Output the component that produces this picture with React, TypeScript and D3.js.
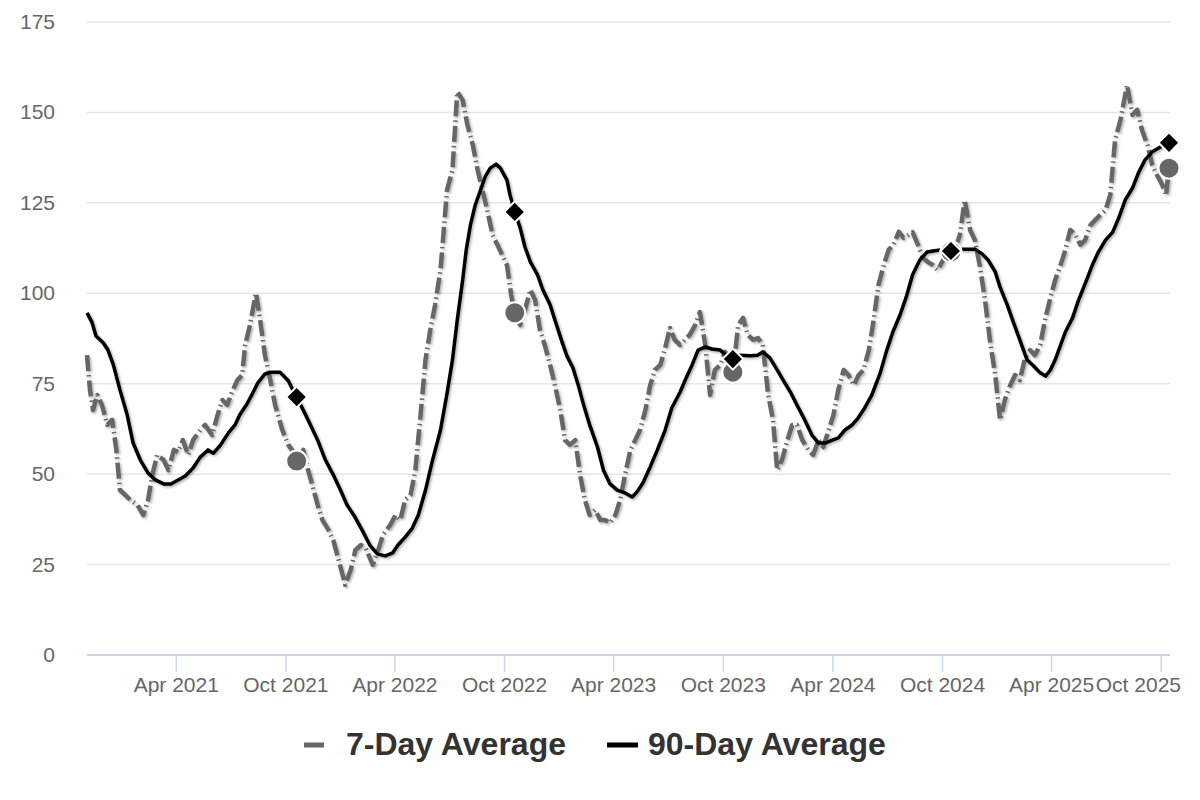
import React, { useRef, useEffect } from 'react';
import * as d3 from 'd3';

// weekly-ish readings, [date, value]
const sevenDay: [string, number][] = [
  ["2020-11-03", 82.9], ["2020-11-08", 73.3], ["2020-11-13", 67.7], ["2020-11-20", 71.9], ["2020-11-28", 69.1],
  ["2020-12-07", 63.6], ["2020-12-15", 65], ["2020-12-22", 56.7], ["2020-12-28", 45.6], ["2021-01-06", 44.2],
  ["2021-01-14", 42.9], ["2021-01-26", 41.5], ["2021-02-05", 38.7], ["2021-02-13", 42.9], ["2021-02-20", 49.8],
  ["2021-02-28", 55.3], ["2021-03-11", 53.9], ["2021-03-19", 51.1], ["2021-03-28", 56.7], ["2021-04-04", 56.1],
  ["2021-04-12", 59.4], ["2021-04-21", 55.3], ["2021-04-29", 59.4], ["2021-05-11", 62.2], ["2021-05-19", 63.6],
  ["2021-05-31", 60.8], ["2021-06-09", 66.4], ["2021-06-17", 70.5], ["2021-06-25", 69.1], ["2021-07-03", 72.7],
  ["2021-07-12", 76], ["2021-07-20", 77.4], ["2021-07-25", 85.7], ["2021-08-02", 91.2], ["2021-08-12", 100.1],
  ["2021-08-19", 92.6], ["2021-08-27", 82.9], ["2021-09-05", 76], ["2021-09-13", 69.1], ["2021-09-25", 62.2],
  ["2021-10-05", 58.1], ["2021-10-11", 56.7], ["2021-10-19", 53.6], ["2021-10-30", 56.7], ["2021-11-07", 51.1],
  ["2021-11-14", 47], ["2021-11-23", 41.5], ["2021-12-01", 37.3], ["2021-12-11", 34.6], ["2021-12-19", 31.8],
  ["2021-12-28", 26.3], ["2022-01-08", 19.4], ["2022-01-17", 23.5], ["2022-01-25", 29], ["2022-02-03", 30.4],
  ["2022-02-11", 29.6], ["2022-02-23", 24.9], ["2022-03-04", 29], ["2022-03-12", 33.2], ["2022-03-24", 35.9],
  ["2022-04-02", 38.7], ["2022-04-10", 37.3], ["2022-04-18", 42.9], ["2022-04-27", 44.2], ["2022-05-05", 51.1],
  ["2022-05-13", 65], ["2022-05-22", 81.6], ["2022-05-30", 89.9], ["2022-06-07", 96.8], ["2022-06-16", 106.4],
  ["2022-06-27", 128.6], ["2022-07-06", 134.1], ["2022-07-14", 155.7], ["2022-07-23", 153.4], ["2022-07-31", 146.5],
  ["2022-08-09", 141], ["2022-08-17", 134.1], ["2022-08-25", 128.6], ["2022-09-02", 123], ["2022-09-11", 116.1],
  ["2022-09-19", 113.4], ["2022-09-27", 110.6], ["2022-10-05", 107.8], ["2022-10-12", 99.5], ["2022-10-18", 94.6],
  ["2022-10-27", 91.2], ["2022-11-04", 95.4], ["2022-11-13", 101], ["2022-11-21", 98.1], ["2022-11-29", 89.9],
  ["2022-12-07", 85.7], ["2022-12-16", 80.2], ["2022-12-24", 74.6], ["2023-01-02", 67.7], ["2023-01-10", 59.4],
  ["2023-01-18", 58.1], ["2023-01-27", 59.4], ["2023-02-04", 49.8], ["2023-02-12", 42.9], ["2023-02-20", 38.7],
  ["2023-03-01", 40.1], ["2023-03-10", 37.3], ["2023-03-18", 37.3], ["2023-03-26", 36.5], ["2023-04-04", 38.7],
  ["2023-04-12", 42.9], ["2023-04-20", 49.8], ["2023-04-29", 56.7], ["2023-05-07", 59.4], ["2023-05-15", 62.2],
  ["2023-05-24", 67.7], ["2023-06-01", 74.6], ["2023-06-09", 78.8], ["2023-06-18", 80.2], ["2023-06-26", 84.9],
  ["2023-07-04", 90.4], ["2023-07-12", 87.1], ["2023-07-21", 85.7], ["2023-07-29", 87.1], ["2023-08-06", 88.5],
  ["2023-08-15", 91.2], ["2023-08-23", 94.8], ["2023-09-01", 85.7], ["2023-09-09", 71.9], ["2023-09-17", 78.8],
  ["2023-09-26", 80.2], ["2023-10-04", 83.8], ["2023-10-12", 80.2], ["2023-10-17", 78.2], ["2023-10-26", 91.2],
  ["2023-11-03", 93.2], ["2023-11-11", 88.5], ["2023-11-20", 87.1], ["2023-11-28", 87.6], ["2023-12-06", 85.7],
  ["2023-12-15", 71.9], ["2023-12-23", 65], ["2023-12-30", 51.1], ["2024-01-07", 53.9], ["2024-01-16", 59.4],
  ["2024-01-24", 63.6], ["2024-02-01", 63.6], ["2024-02-10", 59.4], ["2024-02-20", 56.7], ["2024-02-28", 55.3],
  ["2024-03-08", 59.4], ["2024-03-16", 57.5], ["2024-03-25", 62.2], ["2024-04-02", 66.4], ["2024-04-10", 73.3],
  ["2024-04-19", 78.8], ["2024-04-27", 77.4], ["2024-05-06", 74.6], ["2024-05-14", 77.4], ["2024-05-22", 78.8],
  ["2024-05-31", 84.3], ["2024-06-08", 92.6], ["2024-06-16", 102.3], ["2024-06-25", 107.8], ["2024-07-03", 112],
  ["2024-07-11", 113.4], ["2024-07-20", 117], ["2024-07-28", 115.3], ["2024-08-05", 116.1], ["2024-08-12", 116.9],
  ["2024-08-21", 113.4], ["2024-08-29", 109.8], ["2024-09-06", 108.7], ["2024-09-15", 107.8], ["2024-09-23", 106.4],
  ["2024-10-02", 109.2], ["2024-10-10", 110.6], ["2024-10-15", 111.5], ["2024-10-22", 112.5], ["2024-10-30", 116.1],
  ["2024-11-07", 125.8], ["2024-11-16", 117.5], ["2024-11-24", 114.7], ["2024-12-02", 107.8], ["2024-12-11", 98.1],
  ["2024-12-19", 87.1], ["2024-12-28", 77.4], ["2025-01-05", 65], ["2025-01-13", 70.5], ["2025-01-22", 74.6],
  ["2025-01-30", 77.4], ["2025-02-07", 76], ["2025-02-15", 81.6], ["2025-02-24", 84.3], ["2025-03-04", 82.9],
  ["2025-03-13", 85.7], ["2025-03-21", 92.6], ["2025-03-29", 98.1], ["2025-04-07", 103.7], ["2025-04-16", 107.8],
  ["2025-04-24", 112], ["2025-05-02", 117.5], ["2025-05-11", 116.1], ["2025-05-19", 113.4], ["2025-05-27", 114.7],
  ["2025-06-05", 118.9], ["2025-06-13", 120.3], ["2025-06-21", 121.6], ["2025-06-30", 123], ["2025-07-08", 127.2],
  ["2025-07-16", 142.4], ["2025-07-25", 147.9], ["2025-08-05", 157.6], ["2025-08-14", 149.3], ["2025-08-22", 150.7],
  ["2025-08-30", 145.1], ["2025-09-08", 141], ["2025-09-16", 135.5], ["2025-09-24", 132.7], ["2025-10-03", 129.9],
  ["2025-10-09", 127], ["2025-10-14", 134.6],
];

const ninetyDay: [string, number][] = [
  ["2020-11-03", 94.6], ["2020-11-11", 92.1], ["2020-11-18", 88.2], ["2020-11-30", 86.3], ["2020-12-08", 84.3],
  ["2020-12-17", 80.2], ["2020-12-28", 73.3], ["2021-01-09", 66.4], ["2021-01-19", 58.6], ["2021-01-31", 53.9],
  ["2021-02-13", 50.3], ["2021-02-25", 48.4], ["2021-03-11", 47.3], ["2021-03-23", 47.3], ["2021-04-04", 48.4],
  ["2021-04-16", 49.5], ["2021-04-29", 51.7], ["2021-05-11", 54.7], ["2021-05-24", 56.7], ["2021-06-02", 55.8],
  ["2021-06-14", 58.1], ["2021-06-27", 61.4], ["2021-07-08", 63.6], ["2021-07-16", 66.4], ["2021-07-28", 69.4],
  ["2021-08-05", 71.9], ["2021-08-15", 75.2], ["2021-08-27", 77.7], ["2021-09-08", 78.2], ["2021-09-21", 78.2],
  ["2021-10-05", 75.8], ["2021-10-11", 73.8], ["2021-10-19", 71.3], ["2021-10-30", 67.7], ["2021-11-11", 63.6],
  ["2021-11-23", 59.4], ["2021-12-06", 53.9], ["2021-12-19", 49.8], ["2021-12-31", 45.6], ["2022-01-11", 41.5],
  ["2022-01-24", 38.2], ["2022-02-05", 34.6], ["2022-02-18", 30.4], ["2022-03-03", 27.9], ["2022-03-16", 27.4],
  ["2022-03-28", 28.2], ["2022-04-06", 30.4], ["2022-04-18", 32.6], ["2022-04-30", 35.1], ["2022-05-10", 38.7],
  ["2022-05-22", 45.6], ["2022-06-02", 53.4], ["2022-06-16", 62.2], ["2022-06-27", 72.4], ["2022-07-06", 81.6],
  ["2022-07-14", 92.6], ["2022-07-23", 103.7], ["2022-07-29", 112], ["2022-08-05", 118.9], ["2022-08-13", 124.4],
  ["2022-08-22", 128.6], ["2022-08-30", 132.4], ["2022-09-07", 134.6], ["2022-09-17", 135.7], ["2022-09-24", 134.6],
  ["2022-10-05", 131.3], ["2022-10-10", 127.2], ["2022-10-18", 122.5], ["2022-10-27", 118.1], ["2022-11-04", 112.8],
  ["2022-11-13", 108.7], ["2022-11-25", 105.1], ["2022-12-04", 100.9], ["2022-12-16", 96.8], ["2022-12-24", 92.6],
  ["2023-01-05", 86.5], ["2023-01-13", 82.7], ["2023-01-23", 79.4], ["2023-02-01", 74.6], ["2023-02-09", 69.7],
  ["2023-02-20", 63.6], ["2023-03-05", 57.5], ["2023-03-15", 51.1], ["2023-03-26", 47.3], ["2023-04-07", 45.6],
  ["2023-04-20", 44.8], ["2023-05-02", 43.7], ["2023-05-10", 45.1], ["2023-05-20", 47.6], ["2023-06-01", 52],
  ["2023-06-13", 56.7], ["2023-06-26", 62.2], ["2023-07-07", 68.3], ["2023-07-21", 72.7], ["2023-07-31", 76.6],
  ["2023-08-10", 80.2], ["2023-08-20", 84.3], ["2023-09-01", 85.2], ["2023-09-12", 84.6], ["2023-09-26", 84.3],
  ["2023-10-07", 82.7], ["2023-10-17", 81.8], ["2023-10-29", 82.9], ["2023-11-15", 82.7], ["2023-11-27", 82.9],
  ["2023-12-06", 83.8], ["2023-12-18", 82.1], ["2023-12-30", 78.8], ["2024-01-09", 76], ["2024-01-21", 72.7],
  ["2024-02-01", 69.1], ["2024-02-14", 65], ["2024-02-26", 60.8], ["2024-03-08", 58.6], ["2024-03-19", 58.6],
  ["2024-03-31", 59.4], ["2024-04-10", 60], ["2024-04-21", 62.2], ["2024-05-03", 63.6], ["2024-05-13", 65.5],
  ["2024-05-24", 68.3], ["2024-06-05", 71.9], ["2024-06-19", 78], ["2024-06-30", 84.3], ["2024-07-10", 89.3],
  ["2024-07-22", 94], ["2024-08-02", 99.3], ["2024-08-12", 105.1], ["2024-08-24", 109.2], ["2024-09-05", 111.4],
  ["2024-09-15", 111.7], ["2024-09-27", 112], ["2024-10-05", 111.7], ["2024-10-15", 111.7], ["2024-10-30", 112.2],
  ["2024-11-11", 112.2], ["2024-11-24", 112.2], ["2024-12-06", 110.9], ["2024-12-16", 109.2], ["2024-12-28", 105.9],
  ["2025-01-05", 101.7], ["2025-01-17", 96.8], ["2025-01-27", 92.1], ["2025-02-07", 87.1], ["2025-02-19", 81.6],
  ["2025-03-02", 79.9], ["2025-03-13", 78], ["2025-03-22", 77.1], ["2025-03-30", 78.8], ["2025-04-07", 81.6],
  ["2025-04-16", 85.7], ["2025-04-24", 89.3], ["2025-05-06", 93.2], ["2025-05-16", 98.1], ["2025-05-28", 103.1],
  ["2025-06-08", 107.8], ["2025-06-18", 111.4], ["2025-06-30", 114.7], ["2025-07-12", 116.9], ["2025-07-22", 120.8],
  ["2025-08-02", 125.8], ["2025-08-14", 129.1], ["2025-08-24", 133.3], ["2025-09-04", 136.9], ["2025-09-16", 139.1],
  ["2025-09-29", 140.4], ["2025-10-14", 141.6],
];

// same week each year, highlighted with markers
const markerDates = ["2021-10-19", "2022-10-18", "2023-10-17", "2024-10-15", "2025-10-14"];

const yTicks = [0, 25, 50, 75, 100, 125, 150, 175];
const xTicks = ["2021-04-01", "2021-10-01", "2022-04-01", "2022-10-01", "2023-04-01",
  "2023-10-01", "2024-04-01", "2024-10-01", "2025-04-01", "2025-10-01"];

const legendItems = ["7-Day Average", "90-Day Average"];

const W = 1200;
const H = 800;
const plot = { left: 87, right: 1169, top: 22, bottom: 655 };
const FONT = '"Liberation Sans", Arial, sans-serif';

const parse = d3.utcParse('%Y-%m-%d');

const App: React.FC = () => {
  const svgRef = useRef<SVGSVGElement | null>(null);

  useEffect(() => {
    if (!svgRef.current) return;
    const svg = d3.select(svgRef.current);
    svg.selectAll('*').remove();

    const x = d3.scaleUtc()
      .domain([parse(sevenDay[0][0])!, parse(sevenDay[sevenDay.length - 1][0])!])
      .range([plot.left, plot.right]);
    const y = d3.scaleLinear().domain([0, 175]).range([plot.bottom, plot.top]);

    const defs = svg.append('defs');
    const f = defs.append('filter').attr('id', 'shadow')
      .attr('filterUnits', 'userSpaceOnUse')
      .attr('x', 0).attr('y', 0).attr('width', W).attr('height', H);
    f.append('feDropShadow')
      .attr('dx', 1.5).attr('dy', 1.5).attr('stdDeviation', 1.2)
      .attr('flood-color', '#000').attr('flood-opacity', 0.3);

    // grid
    svg.append('g').selectAll('line')
      .data(yTicks.filter(t => t > 0))
      .enter().append('line')
      .attr('x1', plot.left).attr('x2', plot.right + 1)
      .attr('y1', d => y(d)).attr('y2', d => y(d))
      .attr('stroke', '#e6e6e6').attr('stroke-width', 1.5);

    // y labels
    svg.append('g').selectAll('text')
      .data(yTicks)
      .enter().append('text')
      .attr('x', 55).attr('y', d => y(d) + 7)
      .attr('text-anchor', 'end')
      .attr('font-family', FONT).attr('font-size', 21).attr('fill', '#666')
      .text(d => d);

    // x axis
    svg.append('line')
      .attr('x1', plot.left).attr('x2', plot.right + 1)
      .attr('y1', plot.bottom).attr('y2', plot.bottom)
      .attr('stroke', '#ccd6eb').attr('stroke-width', 2);
    const xDates = xTicks.map(d => parse(d)!);
    const xt = svg.append('g').selectAll('g')
      .data(xDates)
      .enter().append('g');
    xt.append('line')
      .attr('x1', d => x(d)).attr('x2', d => x(d))
      .attr('y1', plot.bottom).attr('y2', plot.bottom + 17)
      .attr('stroke', '#ccd6eb').attr('stroke-width', 1.5);
    // last label is pushed left so it stays inside the chart
    xt.append('text')
      .attr('x', (d, i) => (i === xDates.length - 1 ? 1181 : x(d)))
      .attr('y', 692)
      .attr('text-anchor', (_, i) => (i === xDates.length - 1 ? 'end' : 'middle'))
      .attr('font-family', FONT).attr('font-size', 21).attr('fill', '#666')
      .text(d => d3.utcFormat('%b %Y')(d));

    const line = d3.line<[string, number]>()
      .x(d => x(parse(d[0])!))
      .y(d => y(d[1]))
      .curve(d3.curveLinear);

    const lines = svg.append('g').attr('filter', 'url(#shadow)');
    lines.append('path')
      .datum(sevenDay)
      .attr('fill', 'none')
      .attr('stroke', '#666')
      .attr('stroke-width', 4.5)
      .attr('stroke-dasharray', '16,4,1.5,4')
      .attr('stroke-linejoin', 'round')
      .attr('d', line);
    lines.append('path')
      .datum(ninetyDay)
      .attr('fill', 'none')
      .attr('stroke', '#000')
      .attr('stroke-width', 3.5)
      .attr('stroke-linejoin', 'round')
      .attr('d', line);

    // markers
    const lookup = (s: [string, number][], d: string) => s.find(p => p[0] === d)!;
    const circ = markerDates.map(d => lookup(sevenDay, d));
    const diam = markerDates.map(d => lookup(ninetyDay, d));

    svg.append('g').selectAll('circle')
      .data(circ)
      .enter().append('circle')
      .attr('cx', d => x(parse(d[0])!))
      .attr('cy', d => y(d[1]))
      .attr('r', 10.5)
      .attr('fill', '#666')
      .attr('stroke', '#fff').attr('stroke-width', 2);

    const diamond = d3.symbol().type(d3.symbolSquare).size(220);
    svg.append('g').selectAll('path')
      .data(diam)
      .enter().append('path')
      .attr('d', diamond)
      .attr('transform', d => `translate(${x(parse(d[0])!)},${y(d[1])}) rotate(45)`)
      .attr('fill', '#000')
      .attr('stroke', '#fff').attr('stroke-width', 2);

    // legend
    const lg = svg.append('g');
    lg.append('line')
      .attr('x1', 304).attr('x2', 324).attr('y1', 745).attr('y2', 745)
      .attr('stroke', '#666').attr('stroke-width', 5);
    lg.append('line')
      .attr('x1', 607).attr('x2', 638).attr('y1', 745).attr('y2', 745)
      .attr('stroke', '#000').attr('stroke-width', 5);
    lg.selectAll('text')
      .data(legendItems)
      .enter().append('text')
      .attr('x', (_, i) => (i === 0 ? 346 : 648))
      .attr('y', 755)
      .attr('font-family', FONT).attr('font-size', 32).attr('font-weight', 'bold')
      .attr('fill', '#333')
      .text(d => d);
  }, []);

  return (
    <svg ref={svgRef} width={W} height={H}
      style={{ position: 'absolute', left: 0, top: 0, background: '#fff' }} />
  );
};

export default App;
